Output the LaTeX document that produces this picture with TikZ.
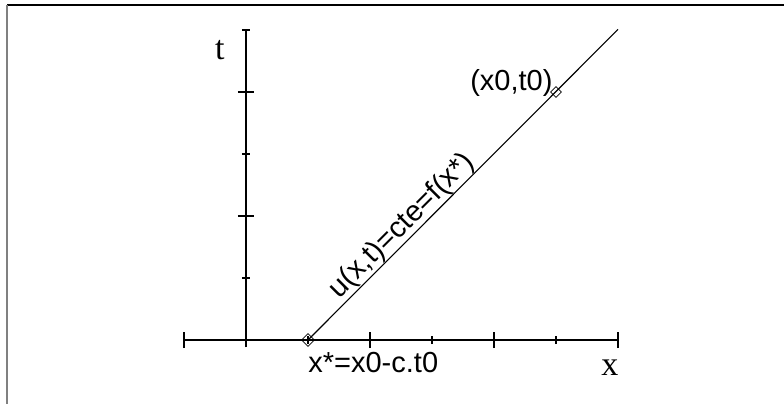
\documentclass[tikz,border=0pt]{standalone}
\usepackage{fontspec}
\setmainfont{Liberation Serif}
\setsansfont{Liberation Sans}
\usetikzlibrary{shapes.geometric,positioning}

\begin{document}
\begin{tikzpicture}[x=31pt, y=31pt, line cap=butt]

\tikzset{
  axis/.style={line width=0.65pt},
  charline/.style={line width=0.55pt},
  dmd/.style={draw, diamond, inner sep=0pt, minimum size=6.5pt, line width=0.4pt},
  sanslbl/.style={font=\sffamily\fontsize{14.5}{17}\selectfont, inner sep=0pt},
  seriflbl/.style={font=\fontsize{17}{20}\selectfont, inner sep=0pt}
}

\useasboundingbox (-3.9677,-1.0323) rectangle (8.6774,5.4839);

% frame
\draw[line width=0.65pt] (-3.847,5.403) -- (8.6774,5.403);
\draw[gray, line width=1pt] (-3.847,5.403) -- (-3.847,-1.0323);

% axes
\coordinate (xl) at (-1,0);
\coordinate (xr) at (6,0);
\coordinate (tb) at (0,-0.12);
\coordinate (tt) at (0,5);
\draw[axis] (xl) -- (xr);
\draw[axis] (tb) -- (tt);

% ticks
\foreach \i in {-1,2,4,6} \draw[axis] (\i,-0.13) -- (\i,0.13);
\foreach \i in {1,3,5} \draw[axis] (\i,-0.065) -- (\i,0.065);
\foreach \j in {0,2,4} \draw[axis] (-0.13,\j) -- (0.13,\j);
\foreach \j in {1,3,5} \draw[axis] (-0.065,\j) -- (0.065,\j);

% characteristic
\node[dmd] (xstar) at (1,0) {};
\node[dmd, minimum size=5.5pt] (x0t0) at (5,4) {};
\coordinate (ctop) at (6,5.01);
\draw[charline] (xstar.center) -- node[pos=0.335, sloped, above, sanslbl] (ulabel) {u(x,t)=cte=f(x*)} (ctop);

% labels
\node[seriflbl] (tlabel) at (-0.42,4.68) {t};
\node[seriflbl] (xlabel) at (5.87,-0.45) {x};
\node[sanslbl, anchor=west] (xstarlabel) at ([shift={(0,-0.37)}]xstar.center) {x*=x0-c.t0};
\node[sanslbl, anchor=east] (ptlabel) at ([shift={(-0.05,0.145)}]x0t0.center) {(x0,t0)};

\end{tikzpicture}
\end{document}
